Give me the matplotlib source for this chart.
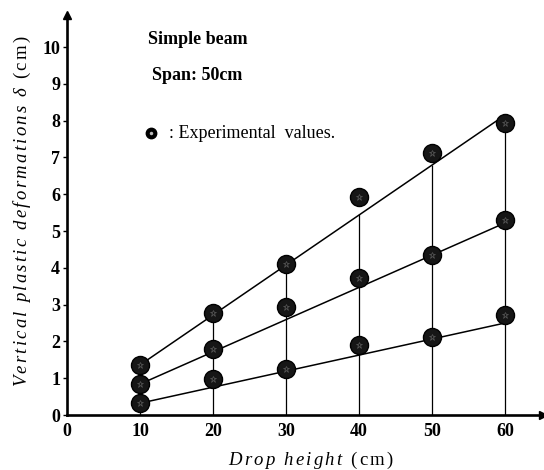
import matplotlib
matplotlib.use("Agg")
import matplotlib.pyplot as plt

plt.rcParams['mathtext.fontset'] = 'custom'
plt.rcParams['mathtext.it'] = 'Liberation Serif:italic'
plt.rcParams['mathtext.rm'] = 'Liberation Serif'
plt.rcParams['mathtext.bf'] = 'Liberation Serif:bold'

# ---- data ----
drop_heights = [10, 20, 30, 40, 50, 60]
upper_exp = [1.36, 2.76, 4.10, 5.92, 7.11, 7.93]
middle_exp = [0.84, 1.79, 2.93, 3.71, 4.35, 5.30]
lower_exp = [0.32, 0.97, 1.24, 1.90, 2.13, 2.72]

fit_x = [10, 60]
upper_fit = [1.36, 8.15]
middle_fit = [0.84, 5.22]
lower_fit = [0.32, 2.50]

drop_line_tops = [1.36, 2.62, 4.10, 5.45, 6.80, 8.15]

x_ticks = [0, 10, 20, 30, 40, 50, 60]
y_ticks = [0, 1, 2, 3, 4, 5, 6, 7, 8, 9, 10]

W, H = 544, 470
fig = plt.figure(figsize=(W / 100, H / 100), dpi=100)
ax = fig.add_axes([67 / W, (H - 415) / H, (543 - 67) / W, (415 - 15) / H])
ax.set_xlim(0, 65.2)
ax.set_ylim(0, 10.87)

for s in ['top', 'right']:
    ax.spines[s].set_visible(False)
for s in ['left', 'bottom']:
    ax.spines[s].set_linewidth(1.9)
    ax.spines[s].set_color('black')

# arrow heads at axis ends
ax.plot([0], [1], marker='^', color='black', markersize=6, transform=ax.transAxes, clip_on=False)
ax.plot([1], [0], marker='>', color='black', markersize=6, transform=ax.transAxes, clip_on=False)

# vertical drop lines
ax.vlines(drop_heights, 0, drop_line_tops, colors='black', linewidth=0.9)

# fitted lines
for fy in (upper_fit, middle_fit, lower_fit):
    ax.plot(fit_x, fy, color='black', linewidth=1.1)

# experimental markers
for ys in (upper_exp, middle_exp, lower_exp):
    ax.plot(drop_heights, ys, linestyle='none', marker='o', markersize=13,
            markerfacecolor='#161616', markeredgecolor='black', markeredgewidth=1.0, zorder=5)
    ax.plot(drop_heights, ys, linestyle='none', marker='*', markersize=5,
            markerfacecolor='none', markeredgecolor='#5a5a5a', markeredgewidth=0.5, zorder=6)

ax.set_xticks(x_ticks)
ax.set_yticks(y_ticks)
ax.set_xticklabels([str(v) for v in x_ticks], fontfamily='Liberation Serif', fontsize=13, fontweight='bold')
ax.set_yticklabels([str(v) for v in y_ticks], fontfamily='Liberation Serif', fontsize=13, fontweight='bold')
ax.tick_params(axis='x', length=0, pad=6)
ax.tick_params(axis='y', length=3, width=1, direction='out', pad=2)


def spaced(word):
    return r"\,".join(word)


ylab = (r"$\mathit{" + r"\ \ ".join(spaced(w) for w in ["Vertical", "plastic", "deformations"])
        + r"\ \ \delta}\ \ \mathrm{(\,c\,m\,)}$")
fig.text(22 / W, 1 - 211 / H, ylab, rotation=90, ha='center', va='center', fontsize=13.5)

xlab = r"$\mathit{" + r"\ \ ".join(spaced(w) for w in ["Drop", "height"]) + r"}\ \ \mathrm{(\,c\,m\,)}$"
fig.text(311 / W, 1 - 460 / H, xlab, ha='center', va='center', fontsize=13.5)

fig.text(148 / W, 1 - 39 / H, "Simple beam", ha='left', va='center',
         fontfamily='Liberation Serif', fontsize=13, fontweight='bold')
fig.text(152 / W, 1 - 75 / H, "Span: 50cm", ha='left', va='center',
         fontfamily='Liberation Serif', fontsize=13, fontweight='bold')
fig.text(169 / W, 1 - 133 / H, ": Experimental  values.", ha='left', va='center',
         fontfamily='Liberation Serif', fontsize=13)
fig.lines.append(matplotlib.lines.Line2D([151 / W], [1 - 133 / H], marker='o', markersize=7.5,
                                         markerfacecolor='black', markeredgecolor='black',
                                         transform=fig.transFigure))
fig.lines.append(matplotlib.lines.Line2D([151 / W], [1 - 133 / H], marker='o', markersize=2.5,
                                         markerfacecolor='#bbbbbb', markeredgecolor='none',
                                         transform=fig.transFigure))

fig.savefig("out.png", dpi=100)
